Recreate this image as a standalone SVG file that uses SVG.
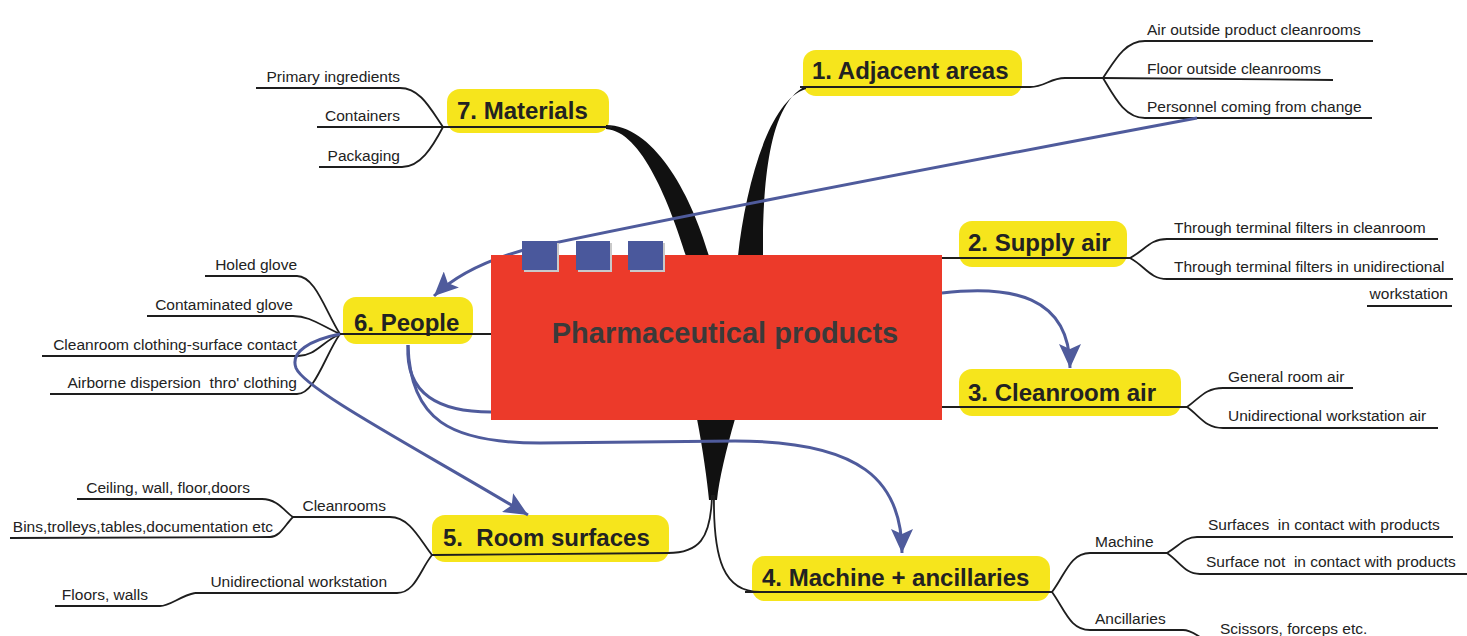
<svg xmlns="http://www.w3.org/2000/svg" width="1467" height="636" viewBox="0 0 1467 636">
<style>
.lbl{fill:#f6e51c}
.lt{font-family:"Liberation Sans",Arial,sans-serif;font-weight:bold;font-size:24px;fill:#222}
.ct{font-family:"Liberation Sans",Arial,sans-serif;font-size:15.5px;fill:#222}
.ln{fill:none;stroke:#1e1e1e;stroke-width:1.8}
.tp{fill:#111}
.bl{fill:none;stroke:#4f5b9c;stroke-width:3}
.sq{fill:#4a589c}
.sh{fill:#c9c9c9}
</style>
<defs>
<marker id="ah" markerUnits="userSpaceOnUse" markerWidth="26" markerHeight="22" refX="24" refY="11" orient="auto">
<path d="M0,0 L24,11 L0,22 L5,11 Z" fill="#4f5b9c"/>
</marker>
</defs>
<rect width="1467" height="636" fill="#fff"/>

<g id="n1">
<rect class="lbl" x="803" y="50" width="219" height="46" rx="13"/>
<text class="lt" x="812" y="79">1. Adjacent areas</text>
<text class="ct" x="1147" y="35">Air outside product cleanrooms</text>
<text class="ct" x="1147" y="74">Floor outside cleanrooms</text>
<text class="ct" x="1147" y="112">Personnel coming from change</text>
</g>
<g id="n2">
<rect class="lbl" x="959" y="221" width="168" height="46" rx="13"/>
<text class="lt" x="968" y="251">2. Supply air</text>
<text class="ct" x="1174" y="233">Through terminal filters in cleanroom</text>
<text class="ct" x="1174" y="272">Through terminal filters in unidirectional</text>
<text class="ct" x="1448" y="299" text-anchor="end">workstation</text>
</g>
<g id="n3">
<rect class="lbl" x="959" y="369" width="222" height="47" rx="13"/>
<text class="lt" x="968" y="401">3. Cleanroom air</text>
<text class="ct" x="1228" y="382">General room air</text>
<text class="ct" x="1228" y="421">Unidirectional workstation air</text>
</g>
<g id="n4">
<rect class="lbl" x="752" y="556" width="298" height="45" rx="13"/>
<text class="lt" x="762" y="586">4. Machine + ancillaries</text>
<text class="ct" x="1095" y="547">Machine</text>
<text class="ct" x="1208" y="530" xml:space="preserve">Surfaces  in contact with products</text>
<text class="ct" x="1206" y="567" xml:space="preserve">Surface not  in contact with products</text>
<text class="ct" x="1095" y="624">Ancillaries</text>
<text class="ct" x="1220" y="634">Scissors, forceps etc.</text>
</g>
<g id="n5">
<rect class="lbl" x="432" y="515" width="237" height="47" rx="13"/>
<text class="lt" x="443" y="546" xml:space="preserve">5.  Room surfaces</text>
<text class="ct" x="386" y="511" text-anchor="end">Cleanrooms</text>
<text class="ct" x="250" y="493" text-anchor="end">Ceiling, wall, floor,doors</text>
<text class="ct" x="273" y="532" text-anchor="end">Bins,trolleys,tables,documentation etc</text>
<text class="ct" x="387" y="587" text-anchor="end">Unidirectional workstation</text>
<text class="ct" x="148" y="600" text-anchor="end">Floors, walls</text>
</g>
<g id="n6">
<rect class="lbl" x="343" y="297" width="130" height="47" rx="13"/>
<text class="lt" x="354" y="331">6. People</text>
<text class="ct" x="297" y="270" text-anchor="end">Holed glove</text>
<text class="ct" x="293" y="310" text-anchor="end">Contaminated glove</text>
<text class="ct" x="297" y="350" text-anchor="end">Cleanroom clothing-surface contact</text>
<text class="ct" x="297" y="388" text-anchor="end" xml:space="preserve">Airborne dispersion  thro' clothing</text>
</g>
<g id="n7">
<rect class="lbl" x="447" y="89" width="162" height="44" rx="13"/>
<text class="lt" x="457" y="119">7. Materials</text>
<text class="ct" x="400" y="82" text-anchor="end">Primary ingredients</text>
<text class="ct" x="400" y="121" text-anchor="end">Containers</text>
<text class="ct" x="400" y="161" text-anchor="end">Packaging</text>
</g>

<g id="connectors">
<path class="tp" d="M606,125 C652,125 690,190 709,256 L686,256 C670,205 642,131 606,129 Z"/>
<path class="tp" d="M763,256 C763,200 765,105 806,86 L806,89 C768,100 745,190 738,256 Z"/>
<path class="tp" d="M697,419 L735,419 C726,450 719,480 717,500 L709,500 C707,480 703,450 697,419 Z"/>
<path class="ln" d="M712,495 C711,540 698,553 668,553"/>
<path class="ln" d="M714,495 C713,560 724,592 760,592"/>
<path class="ln" d="M800,87 L1030,87 C1045,87 1050,78 1065,78 L1103,78"/>
<path class="ln" d="M1103,78 C1115,60 1125,41 1145,41 L1373,41"/>
<path class="ln" d="M1103,78 L1333,80"/>
<path class="ln" d="M1103,78 C1115,98 1125,118 1145,118 L1372,118"/>
<path class="ln" d="M941,258 L1130,258"/>
<path class="ln" d="M1130,258 C1145,250 1150,239 1167,239 L1438,239"/>
<path class="ln" d="M1130,258 C1145,266 1150,279 1167,279 L1453,279"/>
<path class="ln" d="M1367,306 L1452,306"/>
<path class="ln" d="M941,407 L1187,407"/>
<path class="ln" d="M1187,407 C1200,398 1205,388 1223,388 L1353,388"/>
<path class="ln" d="M1187,407 C1200,416 1205,428 1223,428 L1438,428"/>
<path class="ln" d="M745,592 L1052,592"/>
<path class="ln" d="M1052,592 C1065,575 1070,553 1090,553 L1167,553"/>
<path class="ln" d="M1167,553 C1180,545 1185,537 1197,537 L1453,537"/>
<path class="ln" d="M1167,553 C1180,562 1185,574 1200,574 L1467,574"/>
<path class="ln" d="M1052,592 C1065,610 1070,630 1090,630 L1183,630 C1190,630 1195,634 1200,637"/>
<path class="ln" d="M432,555 L670,553"/>
<path class="ln" d="M432,555 C420,540 410,517 390,517 L293,517"/>
<path class="ln" d="M293,517 C285,512 278,499 262,499 L77,499"/>
<path class="ln" d="M293,517 C285,525 280,537 270,537 L10,538"/>
<path class="ln" d="M432,555 C420,570 415,593 397,593 L195,593"/>
<path class="ln" d="M195,593 C180,596 170,606 160,606 L55,606"/>
<path class="ln" d="M340,334 L491,334"/>
<path class="ln" d="M340,334 C325,310 315,276 297,276 L205,276"/>
<path class="ln" d="M340,334 C320,325 310,316 293,316 L147,316"/>
<path class="ln" d="M340,334 C322,342 315,356 298,356 L42,356"/>
<path class="ln" d="M340,334 C325,355 315,394 297,394 L50,394"/>
<path class="ln" d="M443,127 L612,127"/>
<path class="ln" d="M443,127 C430,108 420,88 400,88 L256,88"/>
<path class="ln" d="M443,127 L317,127"/>
<path class="ln" d="M443,127 C432,148 420,167 402,167 L319,167"/>
<path class="bl" d="M1197,118 C1000,155 700,212 540,246 C492,257 456,275 434,296" marker-end="url(#ah)"/>
<path class="bl" d="M942,293 C1010,285 1070,295 1070,368" marker-end="url(#ah)"/>
<path class="bl" d="M408,345 C405,395 440,412 491,412"/>
<path class="bl" d="M408,345 C410,420 450,443 540,443 L735,441 C860,441 902,480 902,553" marker-end="url(#ah)"/>
<path class="bl" d="M340,334 C310,340 290,352 296,368 C305,390 420,450 528,515" marker-end="url(#ah)"/>
</g>

<g id="center">
<rect x="491" y="255" width="451" height="165" fill="#ec3a2a"/>
<rect class="sh" x="524" y="243" width="35" height="29"/>
<rect class="sq" x="522" y="241" width="35" height="29"/>
<rect class="sh" x="578" y="243" width="34" height="29"/>
<rect class="sq" x="576" y="241" width="34" height="29"/>
<rect class="sh" x="630" y="243" width="35" height="29"/>
<rect class="sq" x="628" y="241" width="35" height="29"/>
<text x="725" y="343" text-anchor="middle" font-family="'Liberation Sans',Arial,sans-serif" font-weight="bold" font-size="29" fill="#3a3a3a">Pharmaceutical products</text>
</g>
</svg>
